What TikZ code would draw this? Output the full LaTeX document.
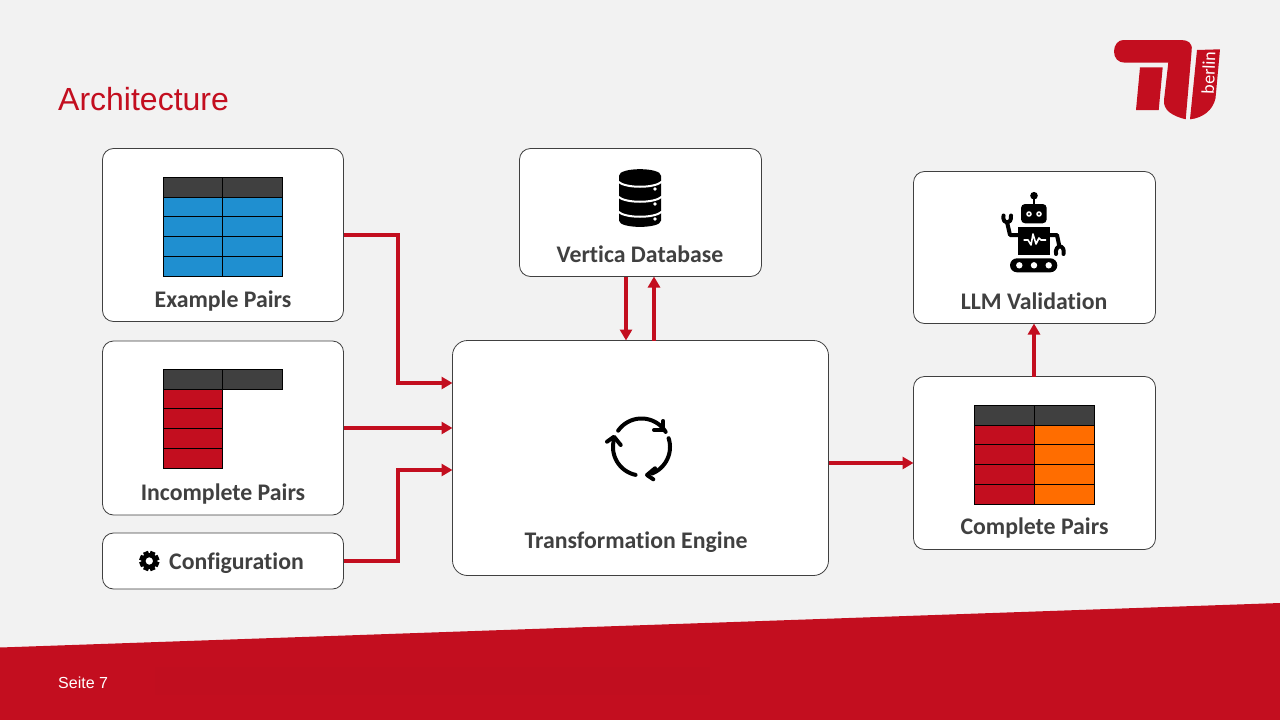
\documentclass[tikz,border=0pt]{standalone}
\usepackage{fontspec}
\setmainfont{Liberation Sans}
\newfontfamily\labelfont[Ligatures=NoCommon]{Carlito}
\usetikzlibrary{calc,positioning,arrows.meta}

\definecolor{tured}{HTML}{C30E1F}
\definecolor{tudark}{HTML}{404040}
\definecolor{tubg}{HTML}{F2F2F2}
\definecolor{tublue}{HTML}{1F8FD0}
\definecolor{tuorange}{HTML}{FF6D00}

\tikzset{
  panel/.style={draw=tudark, line width=0.8pt, fill=white, rounded corners=11pt, inner sep=0pt, outer sep=0pt},
  paneltext/.style={font=\labelfont\bfseries\fontsize{23.8}{25}\selectfont, text=tudark, inner sep=0pt},
  flow/.style={draw=tured, line width=3.2pt, -{Triangle[length=11pt,width=12pt]}},
  cellbox/.style={draw=black, line width=0.5pt},
  iconline/.style={line width=4pt, line cap=round, line join=round},
  robotarm/.style={line width=4pt, line join=round}
}

\newcommand{\pairtable}[4]{%
  \fill[tudark] (#1,#2) rectangle +(119.5,20);
  \draw[cellbox] (#1,#2) rectangle +(59.5,20);
  \draw[cellbox] (#1+59.5,#2) rectangle +(60,20);
  \foreach \r in {1,2,3,4} {
    \draw[cellbox, fill=#3] (#1,#2+20+19.7*\r-19.7) rectangle +(59.5,19.7);
    \if\relax#4\relax\else
      \draw[cellbox, fill=#4] (#1+59.5,#2+20+19.7*\r-19.7) rectangle +(60,19.7);
    \fi
  }
}

\begin{document}
\begin{tikzpicture}[x=1pt,y=-1pt]
  \useasboundingbox (0,0) rectangle (1280,720);
  \fill[tubg] (0,0) rectangle (1280,720);
  \fill[tured] (0,647.5) -- (1280,603) -- (1280,720) -- (0,720) -- cycle;
  \fill[tured!99!black] (155,667) rectangle (710,695);

  \node[text=tured, font=\fontsize{32}{34}\selectfont, inner sep=0pt, anchor=base west] (title) at (58,110) {Architecture};
  \node[text=white, font=\fontsize{16}{18}\selectfont, inner sep=0pt, anchor=base west] (page) at (58,688) {Seite 7};

  % logo
  \fill[tured] (1123.3,40) -- (1181,40) .. controls (1188,40) and (1192.5,43) .. (1191.7,50)
    -- (1185.7,119.3) .. controls (1172,116) and (1163,110) .. (1164,100)
    -- (1168.3,62.7) -- (1125,62.7) .. controls (1118,62.7) and (1114,58) .. (1114,51.5)
    .. controls (1114,45) and (1118,40) .. (1123.3,40) -- cycle;
  \fill[tured] (1140,67.3) -- (1162.7,67.3) -- (1158.7,110) -- (1136,110) -- cycle;
  \fill[tured] (1197,50) -- (1220,49.3) -- (1215.5,98.3) .. controls (1213,110) and (1203,118) .. (1190,119.3) -- cycle;
  \node[text=white, rotate=88, font=\labelfont\fontsize{18}{18}\selectfont, inner sep=0pt] (logotext) at (1208.5,72.7) {berlin};

  % panels
  \node[panel, minimum width=241, minimum height=173] (example) at (223,235) {};
  \node[panel, minimum width=241, minimum height=174] (incomplete) at (223,428) {};
  \node[panel, minimum width=241, minimum height=56] (config) at (223,561) {};
  \node[panel, minimum width=242, minimum height=128] (vertica) at (640.5,212.5) {};
  \node[panel, minimum width=376, minimum height=235, rounded corners=15pt] (engine) at (640.5,458) {};
  \node[panel, minimum width=242, minimum height=152] (llm) at (1034.5,247.5) {};
  \node[panel, minimum width=242, minimum height=173] (complete) at (1034.5,463) {};

  \node[paneltext] (examplelabel) at (223,301) {Example Pairs};
  \node[paneltext] (incompletelabel) at (223,494) {Incomplete Pairs};
  \node[paneltext] (configlabel) at (236.5,563.5) {Configuration};
  \node[paneltext] (verticalabel) at (640,254.7) {Vertica Database};
  \node[paneltext] (enginelabel) at (636,542.5) {Transformation Engine};
  \node[paneltext] (llmlabel) at (1034,301.7) {LLM Validation};
  \node[paneltext] (completelabel) at (1034.5,528.5) {Complete Pairs};

  % tables
  \pairtable{163}{177}{tublue}{tublue}
  \pairtable{163}{369}{tured}{}
  \draw[black, line width=1.2pt] (163,448.4) -- (222.5,448.4);
  \pairtable{974.5}{405}{tured}{tuorange}

  % gear
  \foreach \a in {0,45,...,315}
    \fill[black, rotate around={\a+22.5:(149.3,561)}] (146.7,551) rectangle (151.9,556);
  \fill[black, even odd rule] (149.3,561) circle[radius=8] (149.3,561) circle[radius=3.8];

  % database
  \fill[black] (619,175.7) -- (619,220.5) .. controls (619,229) and (661,229) .. (661,220.5)
    -- (661,175.7) .. controls (661,167) and (619,167) .. (619,175.7) -- cycle;
  \foreach \h in {181.5,196.5,211.5}
    \draw[white, line width=2pt] (618,\h) .. controls (625,\h+7) and (655,\h+7) .. (662,\h);
  \foreach \h in {189,204,219}
    \fill[white] (655,\h) circle[radius=1.8];

  % cycle
  \draw[iconline, domain=145:32, samples=30, variable=\t] plot ({641.5+28.5*cos(\t)},{447-28.5*sin(\t)});
  \draw[iconline, domain=18:-68, samples=30, variable=\t] plot ({641.5+28.5*cos(\t)},{447-28.5*sin(\t)});
  \draw[iconline, domain=-102:-192, samples=30, variable=\t] plot ({641.5+28.5*cos(\t)},{447-28.5*sin(\t)});
  \draw[iconline] (663.3,421) -- (663.3,430) -- (654,430);
  \draw[iconline] (655,468.3) -- (647,475) -- (653.3,479.3);
  \draw[iconline] (607,441.7) -- (614,436.7) -- (620.7,445);

  % robot
  \fill[black] (1034,195.7) circle[radius=3.8];
  \draw[black, line width=2.4pt] (1034,196) -- (1034,206);
  \fill[black, rounded corners=4pt] (1021,204) rectangle (1046.7,223.3);
  \foreach \x in {1029,1039} {
    \fill[white] (\x,214) circle[radius=2.8];
    \fill[black] (\x,214) circle[radius=1.2];
  }
  \fill[black] (1018,227) rectangle (1050,255);
  \draw[white, line width=1.6pt, line join=round] (1023.5,240) -- (1028,240) -- (1031,245) -- (1033,234) -- (1036,244) -- (1039,238) -- (1041,240) -- (1046,240);
  \fill[black, rounded corners=7pt] (1010,258.3) rectangle (1057.3,272.3);
  \foreach \x in {1019.3,1034,1048.7}
    \fill[white] (\x,265.3) circle[radius=3.2];
  \draw[robotarm] (1018,235) -- (1010,235) -- (1007,222);
  \draw[robotarm, line cap=round] (1003.5,215.5) .. controls (1002,225) and (1012,225) .. (1011,215.5);
  \draw[robotarm] (1050,235) -- (1057,235) -- (1059.5,247);
  \draw[robotarm, line cap=round] (1056,254) .. controls (1054.5,244) and (1065.5,244) .. (1063.5,254);

  % connectors
  \coordinate (bendtop) at (398,383);
  \coordinate (bendlow) at (398,470);
  \coordinate (enginetop) at (engine.west |- bendtop);
  \coordinate (enginelow) at (engine.west |- bendlow);
  \coordinate (downup) at (626,300);
  \coordinate (updown) at (654,300);

  \draw[flow] (example.east) -| (bendtop) -- (enginetop);
  \draw[flow] (incomplete.east) -- (engine.west |- incomplete.east);
  \draw[flow] (config.east) -| (bendlow) -- (enginelow);
  \draw[flow] (vertica.south -| downup) -- (engine.north -| downup);
  \draw[flow] (engine.north -| updown) -- (vertica.south -| updown);
  \draw[flow] (engine.east |- complete.west) -- (complete.west);
  \draw[flow] (complete.north -| llmlabel) -- (llm.south -| llmlabel);
\end{tikzpicture}
\end{document}
